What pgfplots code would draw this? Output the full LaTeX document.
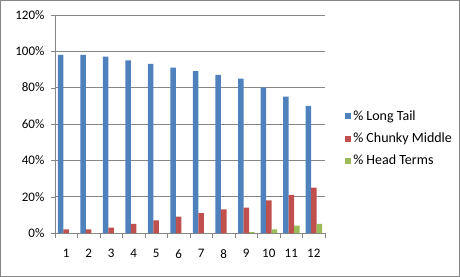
\documentclass[border=0pt]{standalone}
\usepackage{pgfplots}
\pgfplotsset{compat=1.18}
\usepackage{fontspec}
\setmainfont{Carlito}
\definecolor{cblue}{HTML}{4F81BD}
\definecolor{cred}{HTML}{C0504D}
\definecolor{cgreen}{HTML}{9BBB59}
\definecolor{cgrid}{HTML}{868686}
\begin{document}
\begin{tikzpicture}[x=1pt,y=1pt]
\draw[draw=cgrid,line width=0.8pt] (0.5,0.5) rectangle (459.5,276.5);
\begin{axis}[
  at={(55pt,44pt)}, anchor=origin,
  scale only axis, width=270pt, height=218pt,
  ybar=0pt, bar width=5.5pt,
  xmin=0.5, xmax=12.5, ymin=0, ymax=120,
  xtick={1,...,12}, minor xtick={0.5,1.5,...,12.5},
  ytick={0,20,...,120},
  yticklabel={\pgfmathprintnumber{\tick}\%},
  /pgf/number format/assume math mode=true,
  axis x line*=bottom, axis y line*=left,
  axis line style={draw=cgrid,-},
  ymajorgrids, grid style={draw=cgrid,line width=0.6pt},
  major grid style={draw=cgrid},
  tick align=outside,
  major x tick style={draw=none},
  minor x tick style={draw=cgrid},
  major y tick style={draw=cgrid},
  major tick length=4pt, minor tick length=5pt,
  xticklabel style={font=\fontsize{13}{15}\selectfont, yshift=-9pt},
  yticklabel style={font=\fontsize{13}{15}\selectfont, xshift=-3pt},
  legend style={at={(1.063,0.58)}, anchor=north west, draw=none, fill=none,
    font=\fontsize{14}{16}\selectfont, row sep=7pt, cells={anchor=west}},
  legend image code/.code={\fill[#1] (0pt,-3pt) rectangle (6pt,3pt);},
]
\addplot[fill=cblue, draw=none] coordinates {(1,98)(2,98)(3,97)(4,95)(5,93)(6,91)(7,89)(8,87)(9,85)(10,80)(11,75)(12,70)};
\addplot[fill=cred, draw=none] coordinates {(1,2)(2,2)(3,3)(4,5)(5,7)(6,9)(7,11)(8,13)(9,14)(10,18)(11,21)(12,25)};
\addplot[fill=cgreen, draw=none] coordinates {(1,0)(2,0)(3,0)(4,0)(5,0)(6,0)(7,0)(8,0)(9,0.5)(10,2)(11,4)(12,5)};
\legend{\% Long Tail,\% Chunky Middle,\% Head Terms}
\end{axis}
\end{tikzpicture}
\end{document}
